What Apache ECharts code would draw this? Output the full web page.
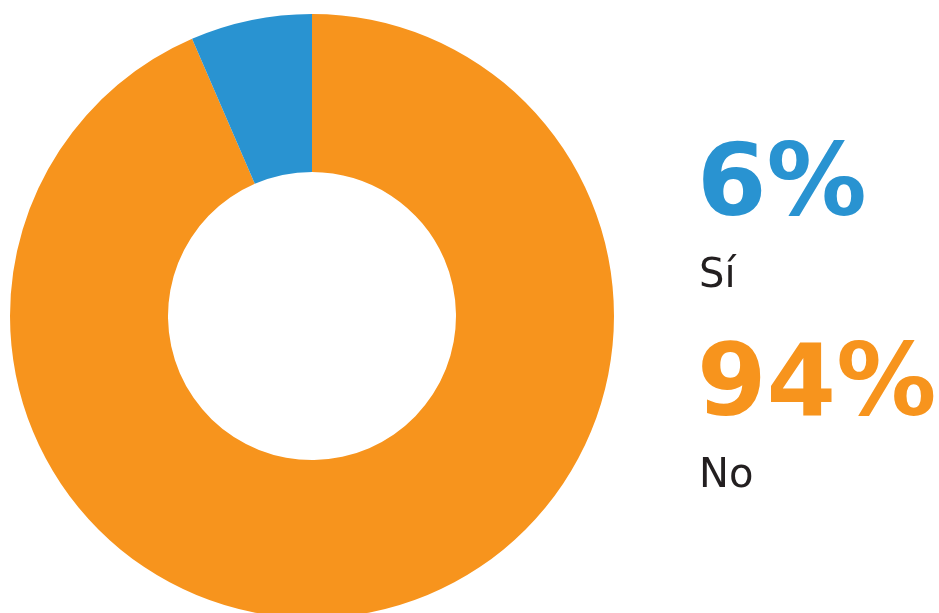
<!DOCTYPE html>
<html>
<head>
<meta charset="utf-8">
<script src="https://cdn.jsdelivr.net/npm/echarts@6/dist/echarts.min.js"></script>
<style>
  html, body { margin: 0; padding: 0; background: #fff; }
  #chart { width: 939px; height: 613px; }
</style>
</head>
<body>
<div id="chart"></div>
<script>
// 数据
const categories = ['No', 'Sí'];
const values = [93.5, 6.5];
const percentLabels = ['94%', '6%'];
const colors = ['#F7941D', '#2993D1'];

const chart = echarts.init(document.getElementById('chart'));

// 右侧文字（Sí 在上，No 在下）
const legendItems = [
    { idx: 1, y: 181 },
    { idx: 0, y: 381 },
];
const graphic = [];
legendItems.forEach((item) => {
    graphic.push({
        type: 'text',
        left: 697,
        top: item.y - 42,
        style: {
            text: percentLabels[item.idx],
            font: 'bold 100px "DejaVu Sans"',
            fill: colors[item.idx],
        },
    });
    graphic.push({
        type: 'text',
        left: 699,
        top: item.y + 76,
        style: {
            text: categories[item.idx],
            font: '40px "DejaVu Sans"',
            fill: '#231F20',
        },
    });
});

const option = {
    animation: false,
    graphic,
    series: [
        {
            type: 'pie',
            center: [312, 316],
            radius: [144, 302],
            startAngle: 90,
            clockwise: true,
            silent: true,
            label: { show: false },
            labelLine: { show: false },
            itemStyle: { borderWidth: 0 },
            data: categories.map((name, i) => ({
                name,
                value: values[i],
                itemStyle: { color: colors[i] },
            })),
        },
    ],
};

chart.setOption(option);
</script>
</body>
</html>
